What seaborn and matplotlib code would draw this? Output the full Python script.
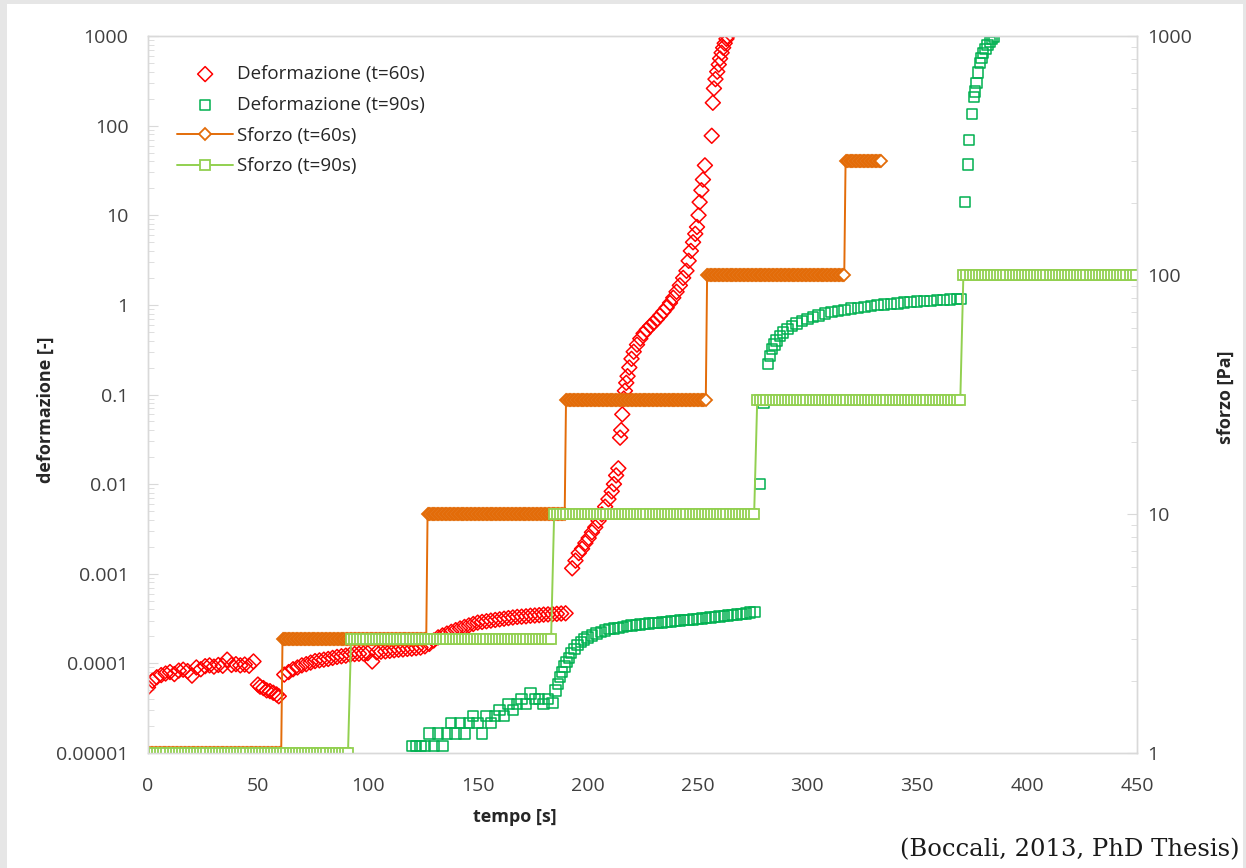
import numpy as np
import pandas as pd
import matplotlib
matplotlib.use("Agg")
import matplotlib.pyplot as plt
import matplotlib.ticker as mticker
from matplotlib.patches import Rectangle
import seaborn as sns

# ---------------- data ----------------
# Deformazione (t=60s) -- strain, left axis
def60_a_t = [0, 2, 4, 6, 8, 10, 12, 14, 16, 18, 20, 22, 24, 26, 28, 30, 32, 34, 36, 38, 40, 42, 44, 46, 48]
def60_a_v = [5.4e-5, 6.4e-5, 7.0e-5, 7.4e-5, 7.7e-5, 8.0e-5, 7.6e-5, 8.3e-5, 8.5e-5, 8.2e-5,
             7.3e-5, 9.0e-5, 8.6e-5, 9.3e-5, 9.5e-5, 9.2e-5, 9.6e-5, 9.4e-5, 1.1e-4, 9.6e-5,
             9.8e-5, 9.5e-5, 9.7e-5, 9.4e-5, 1.05e-4]
def60_b_t = [50, 51, 52.5, 54, 55.5, 57, 58.5, 59.5]
def60_b_v = [5.8e-5, 5.5e-5, 5.3e-5, 5.0e-5, 4.9e-5, 4.7e-5, 4.5e-5, 4.3e-5]
def60_c_v = [7.5e-5, 8.0e-5, 8.6e-5, 9.0e-5, 9.5e-5, 9.8e-5, 1.02e-4, 1.06e-4, 1.08e-4, 1.10e-4,
             1.12e-4, 1.15e-4, 1.18e-4, 1.20e-4, 1.22e-4, 1.25e-4, 1.27e-4, 1.28e-4, 1.29e-4, 1.30e-4,
             1.05e-4, 1.33e-4, 1.35e-4, 1.36e-4, 1.38e-4, 1.40e-4, 1.42e-4, 1.43e-4, 1.45e-4, 1.46e-4,
             1.48e-4, 1.50e-4, 1.55e-4, 1.65e-4, 1.80e-4, 1.95e-4, 2.05e-4, 2.15e-4, 2.25e-4, 2.35e-4,
             2.45e-4, 2.55e-4, 2.65e-4, 2.75e-4, 2.85e-4, 2.90e-4, 2.95e-4, 3.00e-4, 3.05e-4, 3.10e-4,
             3.15e-4, 3.20e-4, 3.25e-4, 3.30e-4, 3.32e-4, 3.35e-4, 3.40e-4, 3.42e-4, 3.45e-4, 3.50e-4,
             3.52e-4, 3.55e-4, 3.57e-4, 3.60e-4, 3.62e-4]
def60_c_t = np.linspace(62, 190, len(def60_c_v))
def60_d_t = [193, 194.5, 196, 197.5, 199, 200.5, 202, 203.5, 205, 206.5, 208, 209.5, 211, 212, 213, 214,
             214.8, 215.3, 215.8, 216.5, 217, 217.6, 218.2, 219, 220, 221, 222.5, 224, 225.5, 227, 228.5,
             230, 231.5, 233, 234.5, 236, 237.5, 239, 240.5, 242, 243.5, 245, 246, 247, 248, 249, 249.8,
             250.5, 251, 251.8, 252.5, 253.4, 256.5, 257, 257.5, 258.2, 259, 259.7, 260.3, 261, 261.7,
             262.4, 263.2, 263.6]
def60_d_v = [1.15e-3, 1.4e-3, 1.7e-3, 1.9e-3, 2.2e-3, 2.5e-3, 2.9e-3, 3.3e-3, 3.9e-3, 4.6e-3, 5.6e-3,
             6.8e-3, 8.3e-3, 0.010, 0.0125, 0.015, 0.033, 0.040, 0.060, 0.09, 0.11, 0.135, 0.16, 0.2,
             0.25, 0.3, 0.36, 0.42, 0.48, 0.53, 0.58, 0.63, 0.69, 0.76, 0.84, 0.93, 1.05, 1.2, 1.4, 1.65,
             2.0, 2.4, 3.1, 4.0, 5.0, 6.2, 7.4, 10, 14, 19, 25, 36, 77, 180, 260, 330, 400, 480, 560, 650,
             740, 830, 930, 990]

# Deformazione (t=90s)
def90_a_v = [1.2e-5, 1.2e-5, 1.2e-5, 1.2e-5, 1.65e-5, 1.2e-5, 1.65e-5, 1.2e-5, 1.65e-5, 2.15e-5,
             1.65e-5, 2.15e-5, 1.65e-5, 2.15e-5, 2.6e-5, 2.15e-5, 1.65e-5, 2.6e-5, 2.15e-5, 2.6e-5,
             3.0e-5, 2.6e-5, 3.5e-5, 3.0e-5, 3.5e-5, 4.0e-5, 3.5e-5, 4.6e-5, 4.0e-5, 4.0e-5,
             3.5e-5, 4.0e-5, 3.6e-5]
def90_a_t = np.linspace(120, 184, len(def90_a_v))
def90_b_t = [185.5, 186.5, 187.5, 188.5, 189.5, 190.5, 191.5, 192.5, 194, 195.5, 197, 198.5, 200, 202,
             204, 206, 208, 210, 212, 214, 216, 218, 220, 222]
def90_b_v = [5.0e-5, 5.9e-5, 7.0e-5, 8.0e-5, 9.2e-5, 1.03e-4, 1.15e-4, 1.3e-4, 1.45e-4, 1.6e-4,
             1.72e-4, 1.85e-4, 1.95e-4, 2.05e-4, 2.15e-4, 2.25e-4, 2.32e-4, 2.4e-4, 2.45e-4, 2.5e-4,
             2.55e-4, 2.6e-4, 2.65e-4, 2.7e-4]
def90_c_v = [2.72e-4, 2.75e-4, 2.78e-4, 2.80e-4, 2.83e-4, 2.86e-4, 2.90e-4, 2.93e-4, 2.96e-4, 3.00e-4,
             3.03e-4, 3.07e-4, 3.10e-4, 3.14e-4, 3.17e-4, 3.21e-4, 3.25e-4, 3.29e-4, 3.33e-4, 3.37e-4,
             3.41e-4, 3.45e-4, 3.50e-4, 3.55e-4, 3.60e-4, 3.68e-4, 3.75e-4]
def90_c_t = np.linspace(224, 276, len(def90_c_v))
def90_d_t = [278.5, 280, 282, 283, 284, 285, 286, 287.5, 289, 291, 293, 295, 297.5, 300, 302.5, 305,
             308, 311, 314, 317, 320, 323, 326, 329, 332, 335, 338, 341, 344, 347, 350, 353, 356, 359,
             362, 365, 368, 370]
def90_d_v = [0.010, 0.08, 0.22, 0.27, 0.32, 0.36, 0.40, 0.45, 0.49, 0.54, 0.58, 0.62, 0.66, 0.70,
             0.73, 0.76, 0.80, 0.83, 0.86, 0.88, 0.91, 0.93, 0.95, 0.97, 0.99, 1.01, 1.03, 1.04, 1.06,
             1.07, 1.09, 1.10, 1.11, 1.13, 1.14, 1.15, 1.16, 1.17]
def90_e_t = [371.7, 373, 373.5, 374.9, 375.8, 376.2, 377, 377.6, 378.5, 379.2, 380, 381, 382, 383, 384, 385]
def90_e_v = [14, 37, 69, 135, 210, 240, 300, 390, 500, 570, 650, 720, 790, 860, 920, 975]

# Sforzo (stress) steps, right axis
sforzo60_levels = [1, 3, 10, 30, 100, 300]
sforzo60_ends = [61, 127, 190, 254, 317, 334]
sforzo90_levels = [1, 3, 10, 30, 100]
sforzo90_ends = [91, 184, 276, 370, 450]

x_ticks = [0, 50, 100, 150, 200, 250, 300, 350, 400, 450]
left_ticks = [1e-5, 1e-4, 1e-3, 1e-2, 1e-1, 1, 10, 100, 1000]
right_ticks = [1, 10, 100, 1000]

labels = ["Deformazione (t=60s)", "Deformazione (t=90s)", "Sforzo (t=60s)", "Sforzo (t=90s)"]

RED = "#ff0000"
GREEN = "#00b050"
ORANGE = "#e36c09"
LGREEN = "#92d050"
GRID = "#d9d9d9"
TXT = "#404040"


def step_series(levels, ends, dt):
    t = np.arange(0, ends[-1] + 1e-9, dt)
    idx = np.clip(np.searchsorted(ends, t, side="left"), 0, len(levels) - 1)
    return t, np.asarray(levels, dtype=float)[idx]


def60 = pd.DataFrame({
    "t": np.concatenate([def60_a_t, def60_b_t, def60_c_t, def60_d_t]),
    "v": np.concatenate([def60_a_v, def60_b_v, def60_c_v, def60_d_v]),
})
def90 = pd.DataFrame({
    "t": np.concatenate([def90_a_t, def90_b_t, def90_c_t, def90_d_t, def90_e_t]),
    "v": np.concatenate([def90_a_v, def90_b_v, def90_c_v, def90_d_v, def90_e_v]),
})
t60, s60 = step_series(sforzo60_levels, sforzo60_ends, 0.6)
t90, s90 = step_series(sforzo90_levels, sforzo90_ends, 1.4)
sf60 = pd.DataFrame({"t": t60, "v": s60})
sf90 = pd.DataFrame({"t": t90, "v": s90})

# ---------------- figure ----------------
sns.set_style("white")
plt.rcParams["font.family"] = ["Open Sans", "DejaVu Sans"]

W, H = 1246, 868
fig = plt.figure(figsize=(W / 100, H / 100), dpi=100)
fig.patch.set_facecolor("#e6e6e6")
fig.patches.append(Rectangle((7 / W, 0), (W - 7 - 3) / W, (H - 4) / H,
                             transform=fig.transFigure, facecolor="white",
                             edgecolor="none", zorder=-10))

L, R, T, B = 148, 1137, 36, 753
ax1 = fig.add_axes([L / W, 1 - B / H, (R - L) / W, (B - T) / H])
ax1.set_facecolor("none")
ax2 = ax1.twinx()

sns.scatterplot(data=def60, x="t", y="v", ax=ax1, marker="D", s=58,
                facecolor="none", edgecolor=RED, linewidth=1.1, label=labels[0])
sns.scatterplot(data=def90, x="t", y="v", ax=ax1, marker="s", s=56,
                facecolor="none", edgecolor=GREEN, linewidth=1.1, label=labels[1])

sns.lineplot(data=sf60, x="t", y="v", ax=ax2, color=ORANGE, lw=1.4, marker="D",
             markersize=6, markerfacecolor="white", markeredgecolor=ORANGE,
             markeredgewidth=1.3, estimator=None, sort=False, label=labels[2])
sns.lineplot(data=sf90, x="t", y="v", ax=ax2, color=LGREEN, lw=1.4, marker="s",
             markersize=6.5, markerfacecolor="white", markeredgecolor=LGREEN,
             markeredgewidth=1.3, estimator=None, sort=False, label=labels[3])

for a in (ax1, ax2):
    if a.get_legend() is not None:
        a.get_legend().remove()

# axes scales
ax1.set_xlim(0, 450)
ax1.set_yscale("log")
ax1.set_ylim(1e-5, 1000)
ax2.set_yscale("log")
ax2.set_ylim(1, 1000)

ax1.set_xticks(x_ticks)
ax1.set_yticks(left_ticks)
ax2.set_yticks(right_ticks)


def fmt(v, pos=None):
    s = format(v, "f").rstrip("0").rstrip(".")
    return s


ax1.yaxis.set_major_formatter(mticker.FuncFormatter(fmt))
ax2.yaxis.set_major_formatter(mticker.FuncFormatter(fmt))
ax1.yaxis.set_minor_locator(mticker.LogLocator(base=10, subs=np.arange(2, 10), numticks=20))
ax2.yaxis.set_minor_locator(mticker.LogLocator(base=10, subs=np.arange(2, 10), numticks=20))
ax1.yaxis.set_minor_formatter(mticker.NullFormatter())
ax2.yaxis.set_minor_formatter(mticker.NullFormatter())

for a in (ax1, ax2):
    for sp in a.spines.values():
        sp.set_color(GRID)
        sp.set_linewidth(1.0)

ax1.tick_params(axis="x", which="major", direction="out", length=6, color=GRID,
                labelsize=14, labelcolor=TXT, pad=11)
ax1.tick_params(axis="y", which="major", direction="in", length=7, color=GRID,
                labelsize=14, labelcolor=TXT, pad=14)
ax1.tick_params(axis="y", which="minor", direction="in", length=4, color=GRID)
ax2.tick_params(axis="y", which="major", direction="in", length=7, color=GRID,
                labelsize=14, labelcolor=TXT, pad=7)
ax2.tick_params(axis="y", which="minor", direction="in", length=4, color=GRID)

ax1.set_xlabel("tempo [s]", fontsize=13, fontweight="bold", color="#262626")
ax1.xaxis.set_label_coords((515 - L) / (R - L), -(808 - B) / (B - T))
ax1.set_ylabel("deformazione [-]", fontsize=13, fontweight="bold", color="#262626")
ax1.yaxis.set_label_coords((55 - L) / (R - L), (B - 410) / (B - T))
ax2.set_ylabel("sforzo [Pa]", fontsize=13, fontweight="bold", color="#262626", rotation=90)
ax2.yaxis.set_label_coords((1217 - L) / (R - L), (B - 397) / (B - T))

h1, l1 = ax1.get_legend_handles_labels()
h2, l2 = ax2.get_legend_handles_labels()
leg = ax2.legend(h1 + h2, l1 + l2, loc="upper left",
                 bbox_to_anchor=((177 - L) / (R - L), (B - 65) / (B - T)),
                 frameon=False, fontsize=13.5, handlelength=3.0, handletextpad=0.2,
                 labelspacing=0.68, borderaxespad=0, borderpad=0)
for txt in leg.get_texts():
    txt.set_color("#262626")

fig.text((W - 6) / W, 1 - 850 / H, "(Boccali, 2013, PhD Thesis)", ha="right", va="center",
         fontsize=17.5, family=["DejaVu Serif"], color="#1a1a1a")

fig.savefig("out.png", dpi=100)
